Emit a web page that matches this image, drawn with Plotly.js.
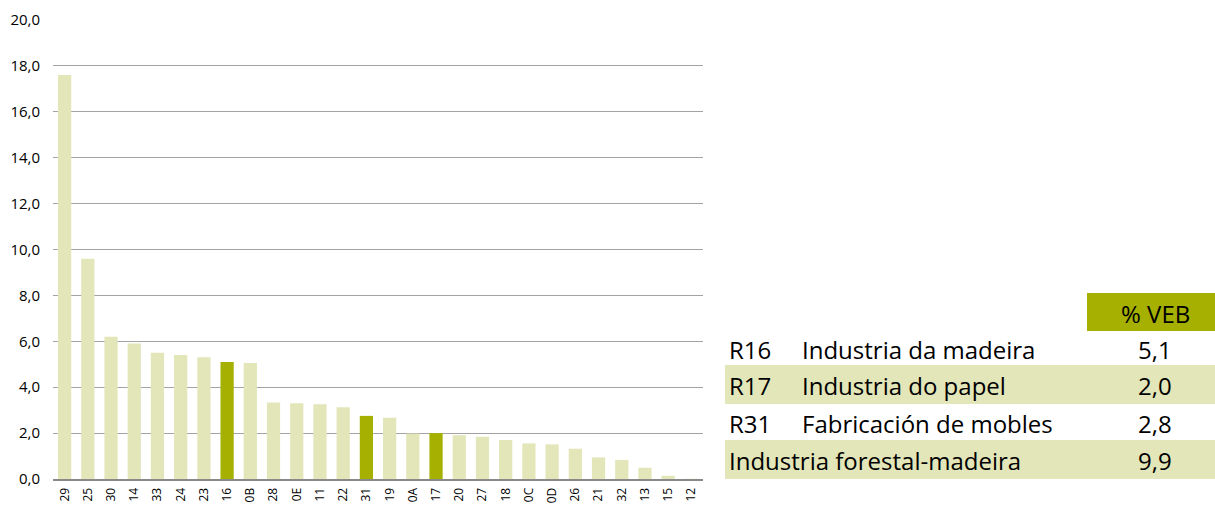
<!DOCTYPE html>
<html>
<head>
<meta charset="utf-8">
<script src="https://cdn.plot.ly/plotly-3.0.1.min.js"></script>
<style>html,body{margin:0;padding:0;background:#fff;}#chart{width:1215px;height:506px;}</style>
</head>
<body>
<div id="chart"></div>
<script>
// ---- data ----
const categories = ["29","25","30","14","33","24","23","16","0B","28","0E","11","22","31","19","0A","17","20","27","18","0C","0D","26","21","32","13","15","12"];
const values = [17.6,9.6,6.2,5.9,5.5,5.4,5.3,5.1,5.05,3.33,3.3,3.26,3.13,2.75,2.67,1.98,2.0,1.91,1.84,1.7,1.55,1.51,1.32,0.94,0.83,0.49,0.14,0.01];
const highlighted = ["16","17","31"];
const yTicks = [0,2,4,6,8,10,12,14,16,18,20];

const tableHeader = "% VEB";
const tableCodes = ["R16","R17","R31"];
const tableNames = ["Industria da madeira","Industria do papel","Fabricación de mobles"];
const tableValues = ["5,1","2,0","2,8"];
const totalName = "Industria forestal-madeira";
const totalValue = "9,9";

// ---- styling ----
const LIGHT = "#e3e6b8";
const DARK = "#a5b000";
const FONT = "Open Sans, sans-serif";

const colors = categories.map(c => highlighted.includes(c) ? DARK : LIGHT);

// plot area in pixels
const L = 53, R = 703, T = 20, B = 479, W = 1215, H = 506;
const px = x => (x - L) / (R - L);
const py = y => (B - y) / (B - T);

const shapes = [];
const annotations = [];
const tfont = {family:FONT, size:24, color:"#000"};

// header cell
shapes.push({type:"rect", xref:"paper", yref:"paper", x0:px(1087), x1:px(1215), y0:py(331), y1:py(293), fillcolor:DARK, line:{width:0}, layer:"below"});
annotations.push({xref:"paper", yref:"paper", x:px(1155), y:py(313), text:tableHeader, showarrow:false, xanchor:"center", yanchor:"middle", font:tfont});

const rowTops = [331,365,404];
const rowBots = [365,404,440];
tableCodes.forEach((code,i) => {
  const top = rowTops[i], bot = rowBots[i];
  if (i % 2 === 1) {
    shapes.push({type:"rect", xref:"paper", yref:"paper", x0:px(725), x1:px(1215), y0:py(bot), y1:py(top), fillcolor:LIGHT, line:{width:0}, layer:"below"});
  }
  const cy = (top + bot) / 2 + 1;
  annotations.push({xref:"paper", yref:"paper", x:px(727), y:py(cy), text:code, showarrow:false, xanchor:"left", yanchor:"middle", font:tfont});
  annotations.push({xref:"paper", yref:"paper", x:px(800), y:py(cy), text:tableNames[i], showarrow:false, xanchor:"left", yanchor:"middle", font:tfont});
  annotations.push({xref:"paper", yref:"paper", x:px(1155), y:py(cy), text:tableValues[i], showarrow:false, xanchor:"center", yanchor:"middle", font:tfont});
});
// total row
shapes.push({type:"rect", xref:"paper", yref:"paper", x0:px(725), x1:px(1215), y0:py(479), y1:py(440), fillcolor:LIGHT, line:{width:0}, layer:"below"});
annotations.push({xref:"paper", yref:"paper", x:px(727), y:py(460.5), text:totalName, showarrow:false, xanchor:"left", yanchor:"middle", font:tfont});
annotations.push({xref:"paper", yref:"paper", x:px(1155), y:py(460.5), text:totalValue, showarrow:false, xanchor:"center", yanchor:"middle", font:tfont});

const trace = {
  type:"bar",
  x: categories,
  y: values,
  marker:{color: colors, line:{width:0}},
  hoverinfo:"x+y"
};

const layout = {
  width: W, height: H,
  margin:{l:L, r:W-R, t:T, b:H-B, pad:0},
  paper_bgcolor:"#fff", plot_bgcolor:"#fff",
  separators:", ",
  bargap:0.43,
  showlegend:false,
  font:{family:FONT, color:"#000"},
  xaxis:{
    type:"category",
    tickangle:-90,
    tickfont:{family:FONT, size:12, color:"#000"},
    showline:true, linecolor:"#898989", linewidth:2,
    ticks:"", showgrid:false, zeroline:false,
    ticklabelstandoff:2,
    automargin:false
  },
  yaxis:{
    range:[0,20],
    tickvals:yTicks,
    tickformat:".1f",
    tickfont:{family:FONT, size:15, color:"#000"},
    showgrid:true, gridcolor:"#a3a3a3", gridwidth:1,
    zeroline:false, showline:false, ticks:"",
    ticklabelstandoff:12,
    automargin:false
  },
  shapes: shapes,
  annotations: annotations
};

Plotly.newPlot("chart", [trace], layout, {displayModeBar:false, staticPlot:true});
</script>
</body>
</html>
